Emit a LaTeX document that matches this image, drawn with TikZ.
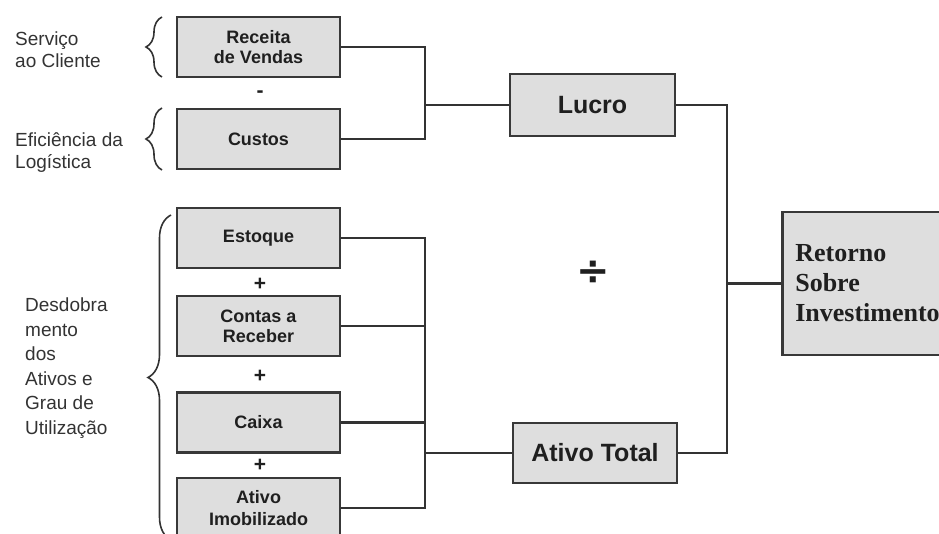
\documentclass[tikz,border=0pt]{standalone}
\usepackage{fontspec}
\setmainfont{Liberation Sans}
\newfontfamily\serifb{Liberation Serif}
\newfontfamily\symfont{DejaVu Sans}
\usetikzlibrary{decorations.pathreplacing}
\begin{document}
\begin{tikzpicture}[x=1pt,y=-1pt,
  box/.style={draw=black!78, line width=2.6pt, fill=gray!26, inner sep=0pt,
    minimum width=163pt, minimum height=60pt, align=center,
    font=\fontsize{18}{20}\selectfont\bfseries, text=black!88},
  bigbox/.style={box, font=\fontsize{25}{28}\selectfont\bfseries},
  lbl/.style={align=left, anchor=west, inner sep=0pt, font=\fontsize{19}{22}\selectfont, text=black!80},
  conn/.style={draw=black!80, line width=2.4pt},
  br/.style={decorate, decoration={brace, amplitude=#1}, line width=1.6pt, draw=black!80},
  sign/.style={font=\fontsize{21}{21}\selectfont\bfseries, text=black!88, inner sep=0pt}]
\useasboundingbox (0,0) rectangle (939,534);

% left labels
\node[lbl] (sc) at (15,50) {Serviço\\ao Cliente};
\node[lbl] (el) at (15,153) {Eficiência da\\Logística};
\node[lbl, font=\fontsize{19}{24.5}\selectfont] (dd) at (25,368) {Desdobra\\mento\\dos\\Ativos e\\Grau de\\Utilização};

% braces
\coordinate (b1a) at (162,77); \coordinate (b1b) at (162,17);
\coordinate (b2a) at (162,170); \coordinate (b2b) at (162,108);
\coordinate (b3a) at (171,540); \coordinate (b3b) at (171,215);
\draw[br=16pt] (b1a) -- (b1b);
\draw[br=16pt] (b2a) -- (b2b);
\draw[br=23pt] (b3a) -- (b3b);

% left boxes
\node[box] (rv) at (258.5,47) {Receita\\de Vendas};
\node[box] (cu) at (258.5,139) {Custos};
\node[box] (es) at (258.5,238) {Estoque};
\node[box] (cr) at (258.5,326) {Contas a\\Receber};
\node[box] (ca) at (258.5,422.5) {Caixa};
\node[box, font=\fontsize{18}{22}\selectfont\bfseries] (ai) at (258.5,508) {Ativo\\Imobilizado};

% signs
\node[sign] (mi) at (260,94) {-};
\node[sign] (p1) at (260,284) {+};
\node[sign] (p2) at (260,376) {+};
\node[sign] (p3) at (260,465) {+};

% middle boxes
\node[bigbox, minimum width=165pt, minimum height=62pt] (lu) at (592.5,105) {Lucro};
\node[bigbox, minimum width=164pt] (atot) at (595,453) {Ativo Total};
\node[font=\symfont\bfseries\fontsize{40}{40}\selectfont, text=black!88, inner sep=0pt] (dv) at (593,273) {÷};

% result box
\node[box, anchor=west, align=left, text width=152pt, inner xsep=13pt,
  minimum height=143pt, font=\serifb\fontsize{26}{30}\selectfont\bfseries] (ret) at (781,283.5)
  {Retorno\\Sobre\\Investimento};

% connectors
\coordinate (jl) at (425,105);
\coordinate (jb) at (425,453);
\coordinate (jr) at (727,283.5);
\draw[conn] (rv.east) -| (jl) |- (cu.east);
\draw[conn] (jl) -- (lu.west);
\draw[conn] (es.east) -| (jb) |- (ai.east);
\draw[conn] (cr.east) -- (cr.east -| jb);
\draw[conn] (ca.east) -- (ca.east -| jb);
\draw[conn] (jb) -- (atot.west);
\draw[conn] (lu.east) -| (jr) |- (atot.east);
\draw[conn] (jr) -- (ret.west);
\end{tikzpicture}
\end{document}
